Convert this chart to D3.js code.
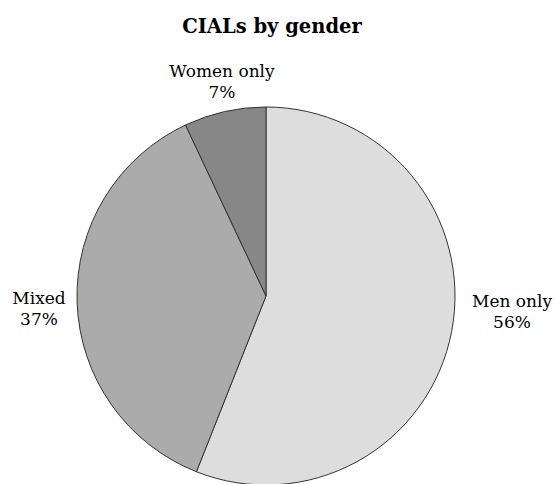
<!DOCTYPE html>
<html>
<head>
<meta charset="utf-8">
<script src="https://cdn.jsdelivr.net/npm/d3@7"></script>
<style>
  body { margin: 0; background: #fff; }
  text { font-family: "DejaVu Serif", serif; fill: #000; }
  .title { font-weight: bold; font-size: 19.5px; }
  .label { font-size: 17px; }
</style>
</head>
<body>
<div id="vis"></div>
<script>
const frame_width = 555;
const frame_height = 484;

// chart data
const categories = ["Men only", "Mixed", "Women only"];
const shares = [56, 37, 7];
const slice_colors = ["#dddddd", "#ababab", "#878787"];
const label_pos = [[512, 307], [39, 304], [222, 77]]; // label anchor (first line baseline)

const center = {x: 266, y: 296};
const radius = 189;

const FRAME =
d3.select("#vis")
    .append("svg")
        .attr("width", frame_width)
        .attr("height", frame_height);

FRAME.append("text")
    .attr("x", 272)
    .attr("y", 33)
    .attr("text-anchor", "middle")
    .attr("class", "title")
    .text("CIALs by gender");

const data = categories.map((c, i) => ({name: c, value: shares[i], color: slice_colors[i]}));

const pie = d3.pie().sort(null).value(d => d.value);
const arc = d3.arc().innerRadius(0).outerRadius(radius);

const g = FRAME.append("g")
    .attr("transform", "translate(" + center.x + "," + center.y + ")");

g.selectAll("path")
    .data(pie(data))
    .enter()
    .append("path")
        .attr("d", arc)
        .attr("fill", d => d.data.color)
        .attr("stroke", "#333")
        .attr("stroke-width", 1);

// labels, two lines each
data.forEach((d, i) => {
    const t = FRAME.append("text")
        .attr("class", "label")
        .attr("text-anchor", "middle")
        .attr("x", label_pos[i][0])
        .attr("y", label_pos[i][1]);
    t.append("tspan").attr("x", label_pos[i][0]).text(d.name);
    t.append("tspan").attr("x", label_pos[i][0]).attr("dy", 21).text(d.value + "%");
});
</script>
</body>
</html>
